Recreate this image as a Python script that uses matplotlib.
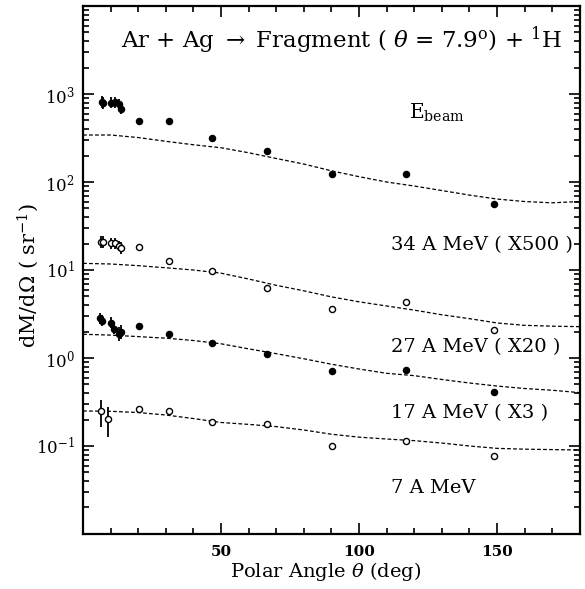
import matplotlib
matplotlib.use('Agg')
import matplotlib.pyplot as plt
import numpy as np
from matplotlib.ticker import LogLocator, FixedLocator, NullFormatter, MultipleLocator

plt.rcParams['font.family'] = ['DejaVu Serif']
plt.rcParams['mathtext.fontset'] = 'dejavuserif'

# ---------------- data ----------------
# 34 A MeV (x500), filled circles
theta_34 = [6.8, 7.4, 10.1, 11.6, 13.1, 13.8, 20.1, 31.1, 46.6, 66.6, 90.2, 117.1, 148.8]
val_34 = [805, 784, 796, 805, 770, 676, 498, 490, 316, 227, 123, 123, 56]
rel_err_34 = [0.17, 0.17, 0.15, 0.15, 0.15, 0.15, 0, 0, 0, 0, 0, 0, 0]

# 27 A MeV (x20), open circles
theta_27 = [6.4, 7.4, 10.1, 11.6, 13.1, 13.8, 20.1, 31.1, 46.6, 66.6, 90.2, 117.1, 148.8]
val_27 = [20.6, 20.6, 20.1, 20.1, 18.7, 17.7, 18.4, 12.8, 9.67, 6.3, 3.6, 4.33, 2.08]
rel_err_27 = [0.17, 0.17, 0.15, 0.15, 0.15, 0.17, 0, 0, 0, 0, 0, 0, 0]

# 17 A MeV (x3), filled circles
theta_17 = [6.3, 7.0, 10.1, 11.3, 12.9, 13.6, 20.1, 31.1, 46.6, 66.6, 90.2, 117.1, 148.8]
val_17 = [2.82, 2.65, 2.52, 2.14, 1.87, 1.96, 2.33, 1.89, 1.49, 1.10, 0.711, 0.73, 0.407]
rel_err_17 = [0.15, 0.15, 0.15, 0.15, 0.2, 0.2, 0, 0, 0, 0, 0, 0, 0]

# 7 A MeV, open circles
theta_7 = [6.4, 8.9, 20.3, 31.2, 46.8, 66.6, 90.2, 117.1, 148.8]
val_7 = [0.25, 0.201, 0.261, 0.252, 0.186, 0.176, 0.100, 0.115, 0.077]
err_lo_7 = [0.084, 0.073, 0, 0, 0, 0, 0, 0, 0]
err_hi_7 = [0.083, 0.074, 0, 0, 0, 0, 0, 0, 0]

# model curves (dashed)
theta_curve = [0, 10, 20, 30, 40, 50, 60, 70, 80, 90, 100, 110, 120, 130, 140, 150, 160, 170, 180]
curve_34 = [342, 342, 320, 290, 265, 245, 215, 185, 160, 134, 115, 100, 90, 80, 71, 64, 60, 58, 60]
curve_27 = [11.9, 11.7, 11.2, 10.6, 10.0, 9.2, 7.9, 6.7, 5.8, 4.95, 4.35, 3.9, 3.5, 3.1, 2.8, 2.5, 2.35, 2.3, 2.27]
curve_17 = [1.86, 1.82, 1.75, 1.68, 1.58, 1.45, 1.27, 1.12, 0.98, 0.85, 0.75, 0.67, 0.63, 0.57, 0.52, 0.48, 0.45, 0.43, 0.404]
curve_7 = [0.25, 0.248, 0.24, 0.225, 0.205, 0.185, 0.176, 0.166, 0.152, 0.136, 0.126, 0.12, 0.115, 0.108, 0.1, 0.094, 0.092, 0.091, 0.09]

series_labels = ['34 A MeV ( X500 )', '27 A MeV ( X20 )', '17 A MeV ( X3 )', '7 A MeV']
title_text = r'Ar + Ag $\rightarrow$ Fragment ( $\theta$ = 7.9$^{\rm o}$) + $^{1}$H'
ylabel_text = r'dM/d$\Omega$ ( sr$^{-1}$)'
xlabel_text = r'Polar Angle $\theta$ (deg)'

# ---------------- figure ----------------
fig = plt.figure(figsize=(5.85, 5.89), dpi=100)
ax = fig.add_axes([0.142, 0.0934, 0.849, 0.8964])
ax.set_yscale('log')
ax.set_xlim(0, 180)
ax.set_ylim(1e-2, 1e4)

dash = (0, (3.0, 1.8))
for cv in [curve_34, curve_27, curve_17, curve_7]:
    ax.plot(theta_curve, cv, color='black', lw=0.9, linestyle=dash)

def rel_yerr(vals, rel):
    v = np.array(vals, float)
    r = np.array(rel, float)
    return np.vstack([v - v / (1 + r), v * r])

ms = 4.4
# filled series
for th, v, r in [(theta_34, val_34, rel_err_34), (theta_17, val_17, rel_err_17)]:
    ax.errorbar(th, v, yerr=rel_yerr(v, r), fmt='o', color='black', ms=ms,
                elinewidth=1.3, capsize=0)
# open series
for th, v, yerr in [(theta_27, val_27, rel_yerr(val_27, rel_err_27)),
                    (theta_7, val_7, np.vstack([err_lo_7, err_hi_7]))]:
    ax.errorbar(th, v, yerr=yerr, fmt='o', mfc='white', mec='black', color='black',
                ms=ms, mew=1.0, elinewidth=1.3, capsize=0)
    ax.plot(th, v, linestyle='none', marker='|', color='black', ms=ms, mew=1.0)

# ticks
ax.xaxis.set_major_locator(FixedLocator([50, 100, 150]))
ax.xaxis.set_minor_locator(MultipleLocator(10))
ax.yaxis.set_major_locator(LogLocator(base=10, numticks=20))
ax.yaxis.set_minor_locator(LogLocator(base=10, subs=np.arange(2, 10), numticks=20))
ax.yaxis.set_minor_formatter(NullFormatter())
ax.set_yticks([1e-1, 1e0, 1e1, 1e2, 1e3])
ax.set_yticklabels([r'10$^{-1}$', r'10$^{0}$', r'10$^{1}$', r'10$^{2}$', r'10$^{3}$'])
ax.tick_params(which='both', direction='in', top=True, right=True, width=1.2)
ax.tick_params(which='major', length=8, labelsize=12)
ax.tick_params(which='minor', length=4.5)
ax.tick_params(axis='x', which='major', labelsize=11, pad=8)
ax.tick_params(axis='y', which='major', pad=6)
for lab in ax.get_xticklabels():
    lab.set_fontweight('bold')
for s in ax.spines.values():
    s.set_linewidth(1.6)

# texts
ax.text(0.52, 0.936, title_text, transform=ax.transAxes, ha='center', va='center', fontsize=16.5)
ax.text(0.656, 0.797, r'E$_{\rm beam}$', transform=ax.transAxes, ha='left', va='center', fontsize=14.5)
label_y = [0.547, 0.354, 0.229, 0.087]
for lab, yy in zip(series_labels, label_y):
    ax.text(0.62, yy, lab, transform=ax.transAxes, ha='left', va='center', fontsize=14)

fig.text(0.048, 0.533, ylabel_text, rotation=90, ha='center', va='center', fontsize=15)
fig.text(0.556, 0.029, xlabel_text, ha='center', va='center', fontsize=14)

fig.savefig('out.png', dpi=100)
